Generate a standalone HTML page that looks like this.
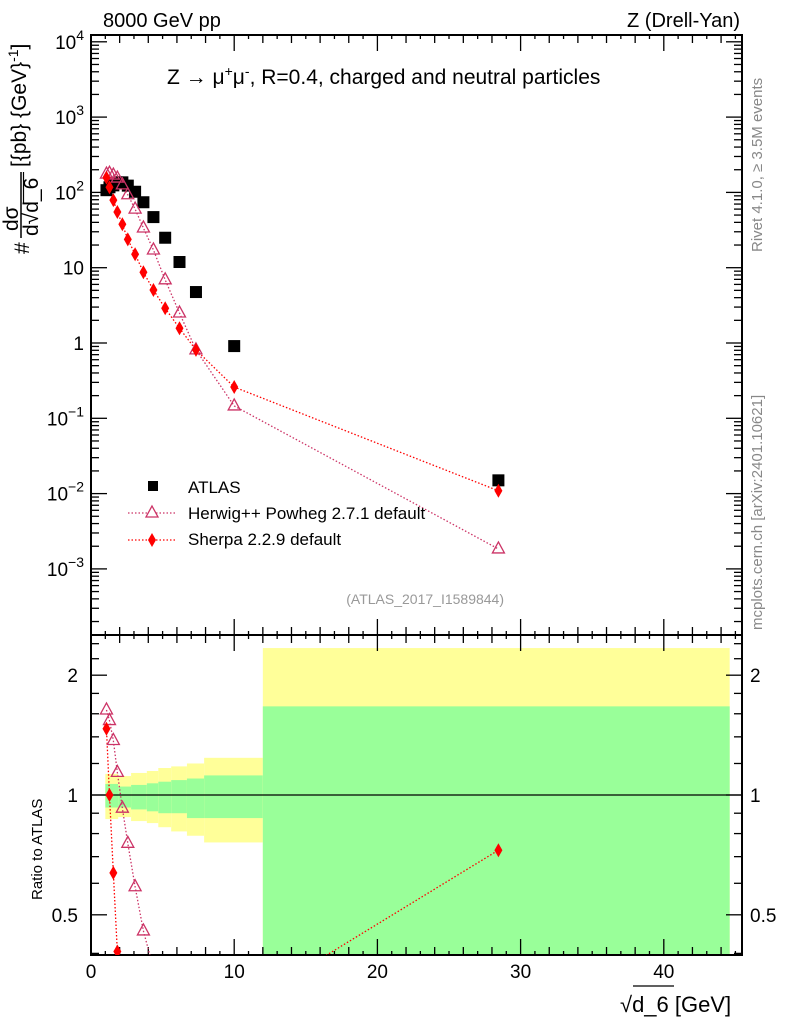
<!DOCTYPE html>
<html><head><meta charset="utf-8"><style>
html,body{margin:0;padding:0;background:#fff;width:786px;height:1024px;overflow:hidden;position:relative}
svg{display:block;font-family:"Liberation Sans",sans-serif}
</style></head><body>
<svg id="c" width="786" height="1024" style="position:absolute;left:0;top:0" xmlns="http://www.w3.org/2000/svg"></svg>
<script>
const xVals=[1.08,1.29,1.56,1.84,2.19,2.57,3.08,3.66,4.36,5.18,6.18,7.33,10.0,28.45];
const atlasVals=[107,117,124,136,136,123,102,74,47,25,11.9,4.75,0.91,0.015];
const herwigVals=[175,180,170,155,126,93,60,33.7,17.2,6.9,2.5,0.81,0.146,0.00184];
const sherpaVals=[157,117,79,55,37.7,23.8,15.1,8.7,5.06,2.89,1.57,0.81,0.26,0.0109];
const bandEdges=[1.0,1.9,2.8,3.9,4.7,5.6,6.7,7.9,12.0,44.6];
const yellowUp=[1.13,1.116,1.136,1.149,1.169,1.18,1.2,1.24,2.34];
const yellowDn=[0.87,0.88,0.86,0.85,0.83,0.81,0.79,0.76,0.3];
const greenUp=[1.066,1.05,1.06,1.07,1.08,1.09,1.10,1.12,1.67];
const greenDn=[0.93,0.93,0.92,0.91,0.90,0.90,0.875,0.875,0.3];
const xTicks=[0,10,20,30,40];
const yTopExp=[-3,-2,-1,0,1,2,3,4];
const ratioTicks=[0.5,1,2];

const L=91,R=742,T1=35,B1=635,T2=635,B2=955;
const X=v=>L+v*14.32;
const Y1=v=>343-Math.log10(v)*75.3;
const Y2=v=>795-Math.log10(v)*398;
const svg=document.getElementById('c');
const NS='http://www.w3.org/2000/svg';
function mk(tag,attrs,parent,text){const e=document.createElementNS(NS,tag);for(const k in attrs)e.setAttribute(k,attrs[k]);if(text!==undefined)e.textContent=text;(parent||svg).appendChild(e);return e;}
const defs=mk('defs',{});
const cp1=mk('clipPath',{id:'cp1'},defs);mk('rect',{x:L,y:T1,width:R-L,height:B1-T1},cp1);
const cp2=mk('clipPath',{id:'cp2'},defs);mk('rect',{x:L,y:T2,width:R-L,height:B2-T2},cp2);

const gb=mk('g',{'clip-path':'url(#cp2)'});


for(let i=0;i<yellowUp.length;i++){
 const x0=X(bandEdges[i]),x1=X(bandEdges[i+1]);
 let r=mk('rect',{x:x0,y:Y2(yellowUp[i]),width:x1-x0,height:Y2(yellowDn[i])-Y2(yellowUp[i]),fill:'#ffff99'},gb);
 
 
 r=mk('rect',{x:x0,y:Y2(greenUp[i]),width:x1-x0,height:Y2(greenDn[i])-Y2(greenUp[i]),fill:'#99ff99'},gb);
 
 
}
mk('line',{x1:L,x2:R,y1:Y2(1),y2:Y2(1),stroke:'#000','stroke-width':1.3});

mk('rect',{x:L,y:T1,width:R-L,height:B1-T1,fill:'none',stroke:'#000','stroke-width':2});
mk('rect',{x:L,y:T2,width:R-L,height:B2-T2,fill:'none',stroke:'#000','stroke-width':2});

for(let v=0;v<=45;v++){
 const len=v%10===0?16:(v%2===0?8:4);
 mk('line',{x1:X(v),x2:X(v),y1:B1,y2:B1-len,stroke:'#000','stroke-width':1.3});
 mk('line',{x1:X(v),x2:X(v),y1:B2,y2:B2-len,stroke:'#000','stroke-width':1.3});
 mk('line',{x1:X(v),x2:X(v),y1:T2,y2:T2+len,stroke:'#000','stroke-width':1.3});
 mk('line',{x1:X(v),x2:X(v),y1:T1,y2:T1+len,stroke:'#000','stroke-width':1.3});
}
xTicks.forEach(v=>{const t=mk('text',{x:X(v),y:978,'font-size':19,'text-anchor':'middle'},svg,String(v));
 });

for(let e=-4;e<=4;e++){for(let m=1;m<10;m++){const v=m*Math.pow(10,e);const y=Y1(v);if(y<T1||y>B1)continue;
 const len=m===1?16:8;
 mk('line',{x1:L,x2:L+len,y1:y,y2:y,stroke:'#000','stroke-width':1.3});
 mk('line',{x1:R,x2:R-len,y1:y,y2:y,stroke:'#000','stroke-width':1.3});}}
yTopExp.forEach(e=>{const y=Y1(Math.pow(10,e));
 let t;
 if(e===0||e===1){t=mk('text',{x:84,y:y+7,'font-size':19,'text-anchor':'end'},svg,e===0?'1':'10');}
 else{t=mk('text',{x:84,y:y+7,'font-size':19,'text-anchor':'end'});
  mk('tspan',{},t,'10');mk('tspan',{dy:-9,'font-size':14},t,String(e).replace('-','−'));}
 });

for(const v of [0.4,0.5,0.6,0.7,0.8,0.9,1,1.2,1.4,1.6,1.8,2,2.2,2.4]){const y=Y2(v);const len=(v===0.5||v===1||v===2)?16:8;
 mk('line',{x1:L,x2:L+len,y1:y,y2:y,stroke:'#000','stroke-width':1.3});
 mk('line',{x1:R,x2:R-len,y1:y,y2:y,stroke:'#000','stroke-width':1.3});}
ratioTicks.forEach(v=>{const y=Y2(v);
 let t=mk('text',{x:78,y:y+7,'font-size':19,'text-anchor':'end'},svg,String(v));
 
 t=mk('text',{x:750,y:y+7,'font-size':19},svg,String(v));
 });

const HC='#cc3366',SC='#ff0000';
function tri(g,x,y,c){return mk('path',{d:`M${x},${y-7}L${x+6},${y+4}L${x-6},${y+4}Z`,fill:'none',stroke:c,'stroke-width':1.3},g);}
function dia(g,x,y,c){return mk('path',{d:`M${x},${y-7}L${x+4},${y}L${x},${y+7}L${x-4},${y}Z`,fill:c},g);}
const g1=mk('g',{'clip-path':'url(#cp1)'});
let pl=mk('polyline',{points:xVals.map((x,i)=>X(x)+','+Y1(herwigVals[i])).join(' '),fill:'none',stroke:HC,'stroke-width':1.3,'stroke-dasharray':'1.5,2'},g1);

pl=mk('polyline',{points:xVals.map((x,i)=>X(x)+','+Y1(sherpaVals[i])).join(' '),fill:'none',stroke:SC,'stroke-width':1.3,'stroke-dasharray':'1.5,2'},g1);

xVals.forEach((x,i)=>{const r=mk('rect',{x:X(x)-6,y:Y1(atlasVals[i])-6,width:12,height:12,fill:'#000'},g1);
 });
xVals.forEach((x,i)=>{const p=tri(g1,X(x),Y1(herwigVals[i]),HC);
 });
xVals.forEach((x,i)=>{const p=dia(g1,X(x),Y1(sherpaVals[i]),SC);
 });

const g2=mk('g',{'clip-path':'url(#cp2)'});
const hr=herwigVals.map((v,i)=>v/atlasVals[i]),sr=sherpaVals.map((v,i)=>v/atlasVals[i]);
pl=mk('polyline',{points:xVals.map((x,i)=>X(x)+','+Y2(hr[i])).join(' '),fill:'none',stroke:HC,'stroke-width':1.3,'stroke-dasharray':'1.5,2'},g2);

pl=mk('polyline',{points:xVals.map((x,i)=>X(x)+','+Y2(sr[i])).join(' '),fill:'none',stroke:SC,'stroke-width':1.3,'stroke-dasharray':'1.5,2'},g2);

xVals.forEach((x,i)=>{const p=tri(g2,X(x),Y2(hr[i]),HC);
 });
xVals.forEach((x,i)=>{const p=dia(g2,X(x),Y2(sr[i]),SC);
 });
</script>
<svg width="786" height="1024" style="position:absolute;left:0;top:0" xmlns="http://www.w3.org/2000/svg">
<g font-family="Liberation Sans, sans-serif">
<text x="103" y="27" font-size="20">8000 GeV pp</text>
<text x="740" y="27" font-size="20" text-anchor="end">Z (Drell-Yan)</text>
<text x="167" y="84" font-size="21">Z → μ<tspan dy="-8" font-size="14">+</tspan><tspan dy="8">μ</tspan><tspan dy="-8" font-size="14">-</tspan><tspan dy="8">, R=0.4, charged and neutral particles</tspan></text>
<g font-size="17">
<rect x="148" y="481" width="10" height="10" fill="#000"/>
<text x="188" y="493">ATLAS</text>
<line x1="128" x2="176" y1="513" y2="513" stroke="#cc3366" stroke-width="1.3" stroke-dasharray="1.5,2"/>
<path d="M152,506L158,517L146,517Z" fill="#fff" stroke="#cc3366" stroke-width="1.3"/>
<text x="188" y="519">Herwig++ Powheg 2.7.1 default</text>
<line x1="128" x2="176" y1="540" y2="540" stroke="#ff0000" stroke-width="1.3" stroke-dasharray="1.5,2"/>
<path d="M152,533L156,540L152,547L148,540Z" fill="#ff0000"/>
<text x="188" y="545">Sherpa 2.2.9 default</text>
</g>
<text x="504" y="604" font-size="14" fill="#999" text-anchor="end">(ATLAS_2017_I1589844)</text>
<text transform="translate(762,252) rotate(-90)" font-size="15" fill="#888">Rivet 4.1.0, ≥ 3.5M events</text>
<text transform="translate(762,630) rotate(-90)" font-size="15" fill="#888">mcplots.cern.ch [arXiv:2401.10621]</text>
<text transform="translate(42,900) rotate(-90)" font-size="15">Ratio to ATLAS</text>
<g font-size="21">
<text transform="translate(29,254) rotate(-90)">#</text>
<text transform="translate(18,231) rotate(-90)">dσ</text>
<line x1="21" x2="21" y1="172" y2="238" stroke="#000" stroke-width="1.5"/>
<text transform="translate(38,236) rotate(-90)">d√d_6</text>
<line x1="23.5" x2="23.5" y1="172" y2="203" stroke="#000" stroke-width="1.2"/>
<text transform="translate(26,167) rotate(-90)">[{pb} {GeV}<tspan dy="-8" font-size="14">-1</tspan><tspan dy="8">]</tspan></text>
</g>
<g font-size="22">
<text x="620" y="1012">√d_6 [GeV]</text>
<line x1="633" x2="674" y1="986" y2="986" stroke="#000" stroke-width="1.2"/>
</g>
</g></svg>
</body></html>
